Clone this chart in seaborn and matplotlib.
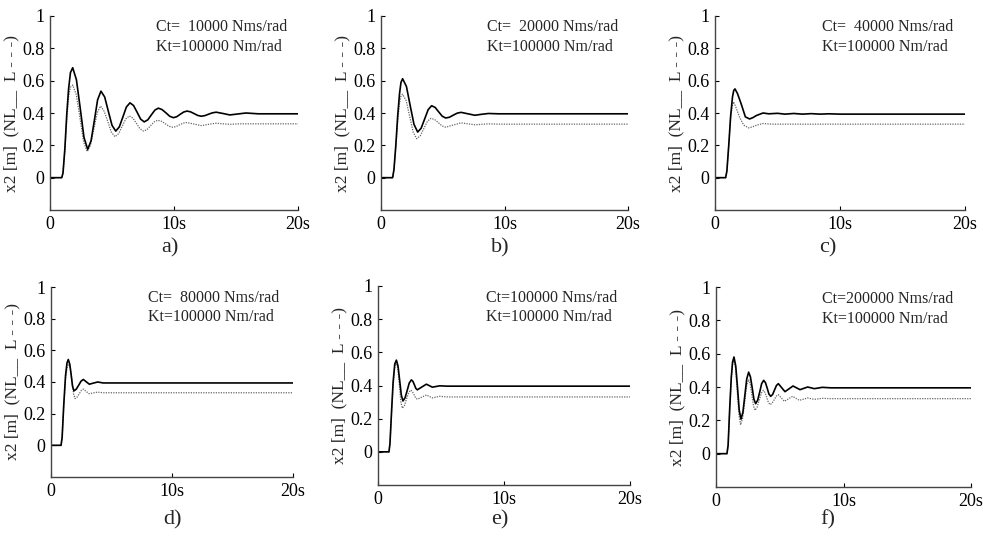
import numpy as np
import seaborn as sns
import matplotlib.pyplot as plt

# ---- data (t in s, x2 in m) ----
a_t_nl = [0, 0.95, 1.05, 1.2, 1.35, 1.5, 1.65, 1.83, 2.13, 2.44, 2.74, 3.04, 3.31, 3.58, 3.84, 4.11,
          4.41, 4.7, 5.0, 5.3, 5.59, 5.88, 6.16, 6.45, 6.74, 7.03, 7.31, 7.6, 7.89, 8.17, 8.46, 8.74,
          9.04, 9.35, 9.65, 9.95, 10.22, 10.5, 10.78, 11.05, 11.34, 11.63, 11.91, 12.2, 12.5, 12.8,
          13.1, 13.4, 13.95, 14.5, 15.15, 15.8, 16.8, 20]
a_nl = [0, 0, 0.03, 0.18, 0.39, 0.55, 0.65, 0.68, 0.606, 0.428, 0.249, 0.175, 0.228, 0.355, 0.482, 0.535,
        0.499, 0.412, 0.324, 0.288, 0.314, 0.376, 0.437, 0.463, 0.446, 0.404, 0.362, 0.345, 0.358, 0.388,
        0.418, 0.43, 0.421, 0.401, 0.380, 0.371, 0.377, 0.392, 0.406, 0.412, 0.407, 0.396, 0.385, 0.38,
        0.384, 0.393, 0.401, 0.405, 0.397, 0.388, 0.394, 0.40, 0.395, 0.395]
a_t_l = [0, 0.95, 1.05, 1.2, 1.35, 1.5, 1.65, 1.83, 2.12, 2.42, 2.71, 3.0, 3.27, 3.54, 3.81, 4.08,
         4.37, 4.66, 4.95, 5.24, 5.53, 5.82, 6.11, 6.4, 6.69, 6.98, 7.26, 7.55, 7.83, 8.12, 8.4, 8.68,
         8.99, 9.29, 9.6, 9.9, 10.17, 10.45, 10.72, 11.0, 11.6, 12.2, 12.8, 13.4, 13.95, 14.5, 15.2, 20]
a_l = [0, 0, 0.03, 0.17, 0.36, 0.50, 0.56, 0.573, 0.513, 0.367, 0.221, 0.161, 0.202, 0.302, 0.402, 0.443,
       0.410, 0.348, 0.281, 0.253, 0.272, 0.318, 0.363, 0.382, 0.368, 0.335, 0.302, 0.288, 0.298, 0.322,
       0.345, 0.355, 0.349, 0.334, 0.318, 0.312, 0.316, 0.327, 0.337, 0.341, 0.332, 0.322, 0.330, 0.337,
       0.333, 0.330, 0.333, 0.333]

b_t_nl = [0, 0.94, 1.05, 1.2, 1.35, 1.5, 1.62, 1.75, 2.06, 2.36, 2.67, 2.97, 3.25, 3.54, 3.82, 4.1,
          4.39, 4.67, 4.96, 5.24, 5.55, 5.86, 6.17, 6.48, 7.04, 7.6, 8.15, 8.7, 9.5, 20]
b_nl = [0, 0, 0.05, 0.2, 0.38, 0.52, 0.59, 0.612, 0.564, 0.447, 0.330, 0.282, 0.306, 0.364, 0.421, 0.445,
        0.434, 0.407, 0.380, 0.369, 0.374, 0.387, 0.399, 0.404, 0.395, 0.386, 0.392, 0.397, 0.395, 0.395]
b_t_l = [0, 0.94, 1.05, 1.2, 1.35, 1.5, 1.62, 1.75, 2.04, 2.32, 2.61, 2.89, 3.18, 3.47, 3.76, 4.05,
         4.35, 4.65, 4.94, 5.24, 5.86, 6.48, 7.04, 7.6, 8.7, 9.5, 20]
b_l = [0, 0, 0.05, 0.19, 0.35, 0.46, 0.505, 0.516, 0.476, 0.379, 0.281, 0.241, 0.259, 0.304, 0.349, 0.367,
       0.359, 0.340, 0.320, 0.312, 0.326, 0.339, 0.333, 0.327, 0.333, 0.331, 0.331]

c_t_nl = [0, 0.85, 0.95, 1.1, 1.25, 1.4, 1.5, 1.6, 1.8, 2.1, 2.43, 2.77, 3.05, 3.3, 3.84, 4.3,
          5.0, 5.6, 6.3, 7.0, 7.7, 8.4, 9.1, 10, 20]
c_nl = [0, 0, 0.04, 0.2, 0.38, 0.5, 0.54, 0.549, 0.52, 0.455, 0.376, 0.363, 0.372, 0.384, 0.40, 0.395,
        0.398, 0.393, 0.397, 0.393, 0.396, 0.393, 0.395, 0.393, 0.393]
c_t_l = [0, 0.85, 0.95, 1.1, 1.25, 1.4, 1.49, 1.7, 1.97, 2.3, 2.69, 3.0, 3.3, 3.84, 4.5, 20]
c_l = [0, 0, 0.04, 0.2, 0.37, 0.45, 0.469, 0.43, 0.373, 0.325, 0.308, 0.314, 0.324, 0.335, 0.331, 0.331]

d_t_nl = [0, 0.83, 0.92, 1.05, 1.2, 1.32, 1.43, 1.55, 1.67, 1.78, 1.9, 2.09, 2.29, 2.48, 2.67, 2.92,
          3.17, 3.5, 3.86, 4.3, 20]
d_nl = [0, 0, 0.05, 0.25, 0.44, 0.52, 0.542, 0.513, 0.443, 0.373, 0.344, 0.355, 0.38, 0.405, 0.416, 0.401,
        0.386, 0.393, 0.40, 0.394, 0.394]
d_t_l = [0, 0.83, 0.92, 1.05, 1.2, 1.35, 1.49, 1.61, 1.74, 1.86, 1.98, 2.15, 2.33, 2.5, 2.67, 2.9,
         3.14, 3.5, 3.86, 4.3, 20]
d_l = [0, 0, 0.05, 0.24, 0.42, 0.5, 0.515, 0.483, 0.405, 0.327, 0.295, 0.304, 0.325, 0.346, 0.355, 0.341,
       0.326, 0.331, 0.336, 0.332, 0.332]

e_t_nl = [0, 0.87, 0.95, 1.08, 1.2, 1.33, 1.46, 1.59, 1.72, 1.85, 1.98, 2.15, 2.32, 2.48, 2.65, 2.77,
          2.89, 3.0, 3.12, 3.48, 3.84, 4.31, 4.9, 5.5, 20]
e_nl = [0, 0, 0.05, 0.25, 0.42, 0.53, 0.553, 0.517, 0.43, 0.343, 0.307, 0.326, 0.371, 0.415, 0.434, 0.425,
        0.404, 0.383, 0.374, 0.391, 0.408, 0.39, 0.398, 0.396, 0.396]
e_t_l = [0, 0.87, 0.95, 1.08, 1.2, 1.33, 1.46, 1.58, 1.7, 1.81, 1.93, 2.1, 2.26, 2.43, 2.59, 2.72,
         2.86, 2.99, 3.12, 3.48, 3.84, 4.31, 4.9, 5.5, 20]
e_l = [0, 0, 0.05, 0.24, 0.41, 0.51, 0.539, 0.499, 0.401, 0.303, 0.263, 0.279, 0.318, 0.356, 0.372, 0.364,
       0.345, 0.325, 0.317, 0.330, 0.343, 0.325, 0.335, 0.331, 0.331]

f_t_nl = [0, 0.86, 0.95, 1.08, 1.2, 1.3, 1.41, 1.55, 1.69, 1.82, 1.96, 2.11, 2.26, 2.41, 2.56, 2.7,
          2.84, 2.97, 3.11, 3.27, 3.43, 3.58, 3.74, 3.88, 4.02, 4.15, 4.29, 4.44, 4.59, 4.74, 4.89,
          5.15, 5.41, 6.04, 6.59, 7.19, 7.71, 8.34, 9.0, 20]
f_nl = [0, 0, 0.05, 0.28, 0.46, 0.55, 0.58, 0.525, 0.394, 0.262, 0.207, 0.248, 0.348, 0.448, 0.489, 0.461,
        0.395, 0.328, 0.30, 0.321, 0.37, 0.42, 0.44, 0.426, 0.392, 0.358, 0.344, 0.355, 0.382, 0.409, 0.42,
        0.396, 0.372, 0.406, 0.384, 0.40, 0.39, 0.398, 0.395, 0.395]
f_t_l = [0, 0.86, 0.95, 1.08, 1.2, 1.3, 1.41, 1.54, 1.67, 1.8, 1.93, 2.09, 2.25, 2.4, 2.56, 2.69,
         2.81, 2.94, 3.06, 3.22, 3.39, 3.55, 3.71, 3.84, 3.98, 4.11, 4.24, 4.4, 4.57, 4.73, 4.89,
         5.13, 5.36, 6.01, 6.54, 7.19, 7.71, 8.34, 9.0, 20]
f_l = [0, 0, 0.05, 0.27, 0.45, 0.54, 0.565, 0.508, 0.369, 0.230, 0.173, 0.213, 0.309, 0.405, 0.445, 0.418,
       0.353, 0.287, 0.26, 0.278, 0.32, 0.362, 0.38, 0.367, 0.337, 0.307, 0.294, 0.303, 0.324, 0.345, 0.354,
       0.334, 0.314, 0.344, 0.32, 0.334, 0.326, 0.332, 0.33, 0.33]

ct_labels = ['Ct=  10000 Nms/rad', 'Ct=  20000 Nms/rad', 'Ct=  40000 Nms/rad',
             'Ct=  80000 Nms/rad', 'Ct=100000 Nms/rad', 'Ct=200000 Nms/rad']
kt_label = 'Kt=100000 Nm/rad'
panel_labels = ['a)', 'b)', 'c)', 'd)', 'e)', 'f)']
y_ticks = [0, 0.2, 0.4, 0.6, 0.8, 1]
y_ticklabels = ['0', '0.2', '0.4', '0.6', '0.8', '1']
x_ticks = [0, 10, 20]
x_ticklabels = ['0', '10s', '20s']

panels = [(a_t_nl, a_nl, a_t_l, a_l), (b_t_nl, b_nl, b_t_l, b_l), (c_t_nl, c_nl, c_t_l, c_l),
          (d_t_nl, d_nl, d_t_l, d_l), (e_t_nl, e_nl, e_t_l, e_l), (f_t_nl, f_nl, f_t_l, f_l)]

# axes boxes in pixels: left, right, top, bottom
W, H = 983, 545
boxes = [(50, 298, 16, 210), (381, 628, 16, 210), (715, 965, 16, 210),
         (51, 293, 287, 477), (378, 630, 286, 485), (716, 971, 287, 487)]
label_pos = [(170, 248), (500, 248), (828, 248), (172, 520), (500, 520), (828, 520)]
text_x = [0.427, 0.43, 0.428, 0.40, 0.43, 0.415]

sns.set_theme(style="ticks")
plt.rcParams['font.family'] = ['Liberation Serif', 'DejaVu Serif']

fig = plt.figure(figsize=(W / 100, H / 100), dpi=100)
fig.patch.set_facecolor('white')

for i, (t_nl, nl, t_l, l) in enumerate(panels):
    left, right, top, bottom = boxes[i]
    ax = fig.add_axes([left / W, 1 - bottom / H, (right - left) / W, (bottom - top) / H])
    ax.set_facecolor('white')
    sns.lineplot(x=t_l, y=l, ax=ax, color='#666666', linewidth=0.9, linestyle=(0, (1, 1)))
    sns.lineplot(x=t_nl, y=nl, ax=ax, color='black', linewidth=1.2)
    ax.set_xlim(0, 20)
    ax.set_ylim(-0.2, 1.0)
    ax.set_xticks(x_ticks)
    ax.set_xticklabels(x_ticklabels)
    ax.set_yticks(y_ticks)
    ax.set_yticklabels(y_ticklabels)
    ax.tick_params(direction='in', length=3, width=0.8, labelsize=13, colors='black', pad=4)
    for s in ['top', 'right']:
        ax.spines[s].set_visible(False)
    for s in ['left', 'bottom']:
        ax.spines[s].set_color('#444444')
        ax.spines[s].set_linewidth(1.0)
    ax.set_xlabel('')
    ax.set_ylabel('x2 [m]  (NL__  L - - -)', fontsize=12.5, labelpad=2)
    ax.text(text_x[i], 0.942, ct_labels[i], transform=ax.transAxes, fontsize=11.5, ha='left', va='center')
    ax.text(text_x[i], 0.842, kt_label, transform=ax.transAxes, fontsize=11.5, ha='left', va='center')
    lx, ly = label_pos[i]
    fig.text(lx / W, 1 - ly / H, panel_labels[i], fontsize=16, ha='center', va='center')

fig.savefig('out.png', dpi=100, facecolor='white')
